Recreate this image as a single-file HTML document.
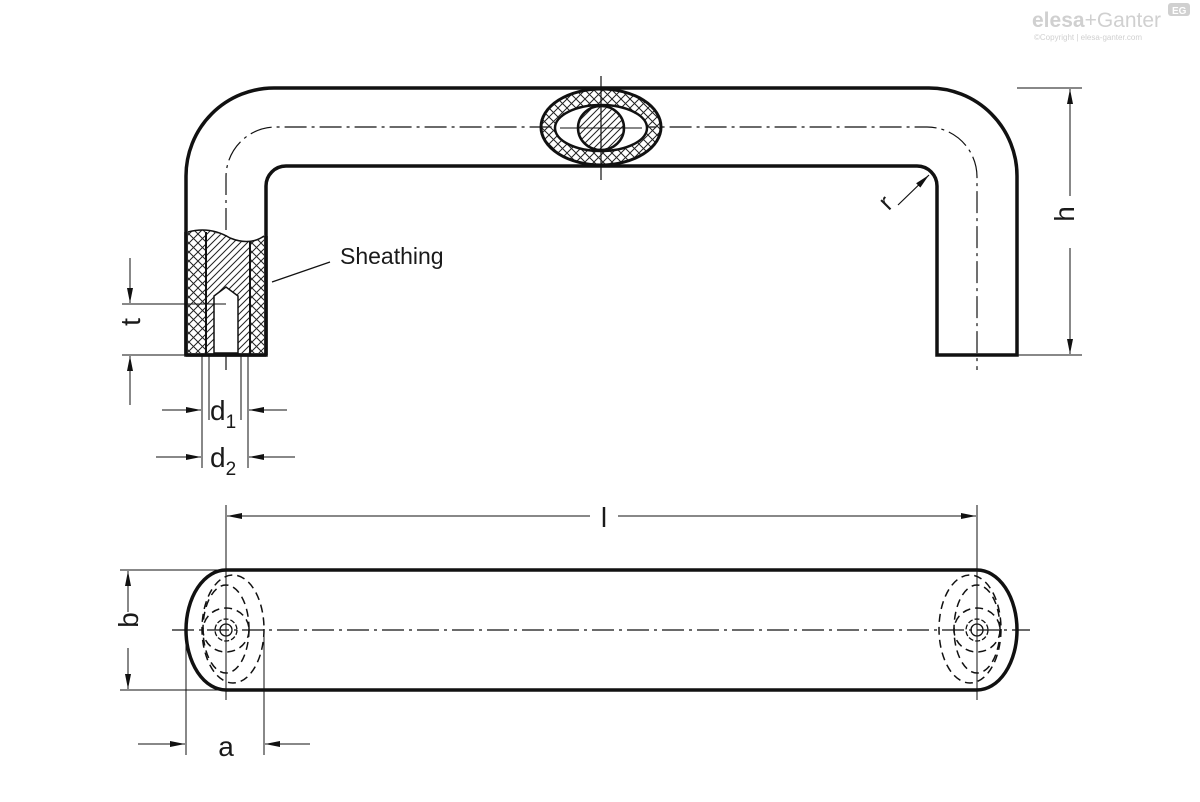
<!DOCTYPE html>
<html><head><meta charset="utf-8"><style>
html,body{margin:0;padding:0;background:#fff}
svg{display:block}
text{font-family:"Liberation Sans",sans-serif;fill:#1a1a1a}
</style></head><body>
<svg width="1200" height="802" viewBox="0 0 1200 802" xmlns="http://www.w3.org/2000/svg">
<defs>
<pattern id="cross" width="9" height="9" patternUnits="userSpaceOnUse">
<path d="M0 0L9 9M9 0L0 9" stroke="#222" stroke-width="1"/>
</pattern>
<pattern id="diag" width="7" height="7" patternUnits="userSpaceOnUse">
<path d="M-1 8L8 -1M-1 1L1 -1M6 8L8 6" stroke="#222" stroke-width="1"/>
</pattern>
<marker id="ar" viewBox="0 0 15 6" refX="15" refY="3" markerWidth="15" markerHeight="6" markerUnits="userSpaceOnUse" orient="auto"><path d="M0 0L15 3L0 6z" fill="#111"/></marker>
</defs>
<g fill="none" stroke="#111">
<path d="M186 355 V176 A88 88 0 0 1 274 88 H929 A88 88 0 0 1 1017 176 V355 H937 V186 A20 20 0 0 0 917 166 H286 A20 20 0 0 0 266 186 V355 Z" stroke-width="3.5" fill="#fff"/>
<path d="M226 370 V177 A50 50 0 0 1 276 127 H927 A50 50 0 0 1 977 177 V370" stroke-width="1.2" stroke-dasharray="22 5 3 5"/>
<path d="M188 232 Q210 226 230 238 Q250 246 264 236 V353 H188 Z" fill="url(#cross)" stroke="none"/>
<path d="M206 232 Q218 232 230 238 Q242 244 250 241 V353 H206 Z" fill="#fff" stroke="none"/>
<path d="M206 232 Q218 232 230 238 Q242 244 250 241 V353 H206 Z" fill="url(#diag)" stroke="none"/>
<path d="M214 353 V296 L226 287 L238 296 V353 Z" fill="#fff" stroke="#111" stroke-width="1.5"/>
<path d="M188 232 Q210 226 230 238 Q250 246 264 236" stroke-width="1.5"/>
<line x1="206" y1="232" x2="206" y2="355" stroke-width="2"/>
<line x1="250" y1="241" x2="250" y2="355" stroke-width="2"/>
<line x1="186" y1="355" x2="266" y2="355" stroke-width="3.5"/>
<line x1="186" y1="232" x2="186" y2="355" stroke-width="3.5"/>
<line x1="266" y1="236" x2="266" y2="355" stroke-width="3.5"/>
<ellipse cx="601" cy="127" rx="60" ry="38" fill="url(#cross)" stroke-width="3"/>
<ellipse cx="601" cy="128" rx="46" ry="23" fill="#fff" stroke-width="2.5"/>
<ellipse cx="601" cy="128" rx="23" ry="22" fill="url(#diag)" stroke-width="2.5"/>
<line x1="601" y1="76" x2="601" y2="180" stroke-width="1.2"/>
<line x1="560" y1="128" x2="642" y2="128" stroke-width="1"/>
<line x1="330" y1="262" x2="272" y2="282" stroke-width="1.2"/>
<line x1="898" y1="205" x2="929" y2="175" stroke-width="1.2" marker-end="url(#ar)"/>
<line x1="1017" y1="88" x2="1082" y2="88" stroke-width="1"/>
<line x1="1017" y1="355" x2="1082" y2="355" stroke-width="1"/>
<line x1="1070" y1="196" x2="1070" y2="89" stroke-width="1" marker-end="url(#ar)"/>
<line x1="1070" y1="248" x2="1070" y2="354" stroke-width="1" marker-end="url(#ar)"/>
<line x1="122" y1="304" x2="226" y2="304" stroke-width="1"/>
<line x1="122" y1="355" x2="186" y2="355" stroke-width="1"/>
<line x1="130" y1="258" x2="130" y2="303" stroke-width="1" marker-end="url(#ar)"/>
<line x1="130" y1="405" x2="130" y2="356" stroke-width="1" marker-end="url(#ar)"/>
<line x1="202" y1="355" x2="202" y2="468" stroke-width="1"/>
<line x1="209" y1="355" x2="209" y2="420" stroke-width="1"/>
<line x1="241" y1="355" x2="241" y2="420" stroke-width="1"/>
<line x1="248" y1="355" x2="248" y2="468" stroke-width="1"/>
<line x1="162" y1="410" x2="201" y2="410" stroke-width="1" marker-end="url(#ar)"/>
<line x1="287" y1="410" x2="249" y2="410" stroke-width="1" marker-end="url(#ar)"/>
<line x1="156" y1="457" x2="201" y2="457" stroke-width="1" marker-end="url(#ar)"/>
<line x1="295" y1="457" x2="249" y2="457" stroke-width="1" marker-end="url(#ar)"/>
<path d="M226 570 H977 A40 60 0 0 1 977 690 H226 A40 60 0 0 1 226 570 Z" stroke-width="3.5" fill="#fff"/>
<line x1="172" y1="630" x2="1030" y2="630" stroke-width="1.2" stroke-dasharray="22 5 3 5"/>
<g stroke-width="1.5" stroke-dasharray="8 5">
<ellipse cx="233" cy="629" rx="31" ry="54"/>
<ellipse cx="226" cy="629" rx="23" ry="44"/>
<ellipse cx="226" cy="630" rx="23" ry="22"/>
<ellipse cx="970" cy="629" rx="31" ry="54"/>
<ellipse cx="977" cy="629" rx="23" ry="44"/>
<ellipse cx="977" cy="630" rx="23" ry="22"/>
</g>
<circle cx="226" cy="630" r="11" stroke-width="1.3" stroke-dasharray="5 2"/>
<circle cx="226" cy="630" r="6" stroke-width="1.3"/>
<circle cx="977" cy="630" r="11" stroke-width="1.3" stroke-dasharray="5 2"/>
<circle cx="977" cy="630" r="6" stroke-width="1.3"/>
<line x1="226" y1="505" x2="226" y2="700" stroke-width="1"/>
<line x1="977" y1="505" x2="977" y2="700" stroke-width="1"/>
<line x1="590" y1="516" x2="227" y2="516" stroke-width="1" marker-end="url(#ar)"/>
<line x1="618" y1="516" x2="976" y2="516" stroke-width="1" marker-end="url(#ar)"/>
<line x1="120" y1="570" x2="226" y2="570" stroke-width="1"/>
<line x1="120" y1="690" x2="226" y2="690" stroke-width="1"/>
<line x1="128" y1="612" x2="128" y2="571" stroke-width="1" marker-end="url(#ar)"/>
<line x1="128" y1="648" x2="128" y2="689" stroke-width="1" marker-end="url(#ar)"/>
<line x1="186" y1="630" x2="186" y2="755" stroke-width="1"/>
<line x1="264" y1="630" x2="264" y2="755" stroke-width="1"/>
<line x1="138" y1="744" x2="185" y2="744" stroke-width="1" marker-end="url(#ar)"/>
<line x1="310" y1="744" x2="265" y2="744" stroke-width="1" marker-end="url(#ar)"/>
</g>
<text x="340" y="264" font-size="23">Sheathing</text>
<text x="880" y="205" font-size="25" transform="rotate(-45 892 198)">r</text>
<text x="1082" y="222" font-size="28" transform="rotate(-90 1074 222)" text-anchor="middle">h</text>
<text x="148" y="330" font-size="28" transform="rotate(-90 140 330)" text-anchor="middle">t</text>
<text x="210" y="420" font-size="28">d<tspan font-size="19" dy="8">1</tspan></text>
<text x="210" y="467" font-size="28">d<tspan font-size="19" dy="8">2</tspan></text>
<text x="604" y="527" font-size="28" text-anchor="middle">l</text>
<text x="148" y="630" font-size="28" transform="rotate(-90 138 630)" text-anchor="middle">b</text>
<text x="226" y="756" font-size="28" text-anchor="middle">a</text>
<text x="1032" y="27" font-size="21" font-weight="bold" style="fill:#d0d0d0">elesa<tspan font-weight="normal">+Ganter</tspan></text>
<text x="1034" y="40" font-size="8" style="fill:#d0d0d0">©Copyright | elesa-ganter.com</text>
<rect x="1168" y="3" width="22" height="13" rx="3" fill="#d0d0d0"/>
<text x="1172" y="14" font-size="10" font-weight="bold" style="fill:#fff">EG</text>
</svg>
</body></html>
